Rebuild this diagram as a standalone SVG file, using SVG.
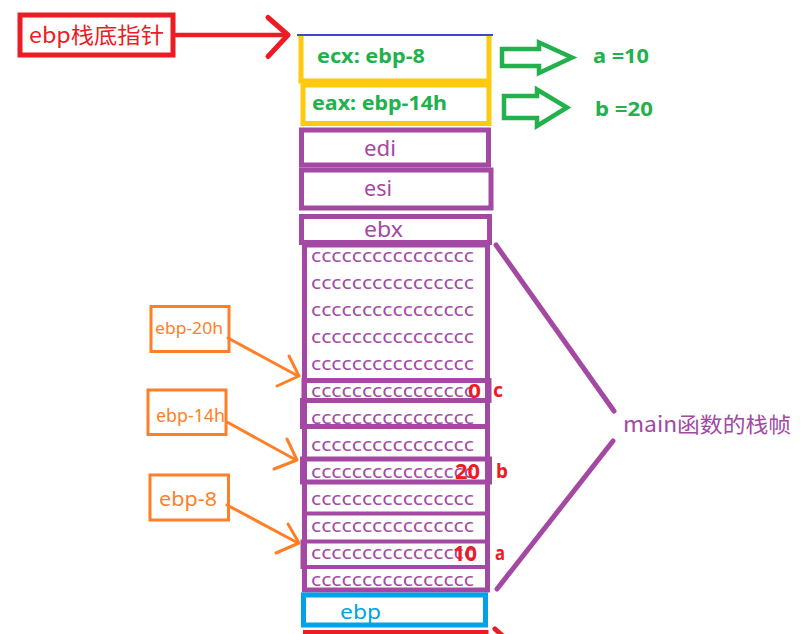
<svg xmlns="http://www.w3.org/2000/svg" width="805" height="634" viewBox="0 0 805 634">
  <style>
    .bg { fill: #ffffff; }
    .box { fill: none; stroke-width: 5; }
    .pur { stroke: #a349a4; }
    .yel { stroke: #ffc90e; }
    .blu { stroke: #00a2e8; }
    .red { stroke: #ed1c24; }
    .org { stroke: #ff7f27; }
    .grn { stroke: #22b14c; }
    .t { font-family: "Noto Sans", "Noto Sans CJK SC", sans-serif; }
    .cjk { font-family: "Noto Sans CJK SC", "Noto Sans", sans-serif; }
    .tp { fill: #a349a4; }
    .tg { fill: #22b14c; font-weight: bold; }
    .tr { fill: #ed1c24; }
    .trb { fill: #ed1c24; font-weight: bold; }
    .to { fill: #ff7f27; }
    .tb { fill: #00a2e8; }
    .cc { font-family: "Noto Sans", sans-serif; font-size: 18px; fill: #a349a4; }
    .ln { fill: none; stroke-linecap: round; stroke-linejoin: round; }
  </style>

  <rect class="bg" x="0" y="0" width="805" height="634"/>

  <!-- label: ebp pointer -->
  <g id="ebp-label">
    <rect class="box red" x="20" y="15" width="153" height="40"/>
    <text class="cjk tr" x="29" y="43" font-size="22" textLength="135" lengthAdjust="spacingAndGlyphs">ebp栈底指针</text>
  </g>

  <!-- top of frame -->
  <g id="frame-top">
    <line x1="297" y1="35" x2="493" y2="35" stroke="#3f48cc" stroke-width="2"/>
  </g>

  <!-- saved registers holding locals -->
  <g id="ecx-slot">
    <path class="box yel" d="M301,36 V81 H489 V36"/>
    <text class="t tg" x="317" y="63" font-size="20" textLength="108" lengthAdjust="spacingAndGlyphs">ecx: ebp-8</text>
  </g>
  <g id="eax-slot">
    <rect class="box yel" x="303" y="85" width="186" height="38.5"/>
    <text class="t tg" x="312" y="110" font-size="20" textLength="135" lengthAdjust="spacingAndGlyphs">eax: ebp-14h</text>
  </g>

  <g id="a-value">
    <text class="t tg" x="593" y="63" font-size="20" textLength="56" lengthAdjust="spacingAndGlyphs">a =10</text>
  </g>
  <g id="b-value">
    <text class="t tg" x="595" y="116" font-size="20" textLength="58" lengthAdjust="spacingAndGlyphs">b =20</text>
  </g>

  <!-- pushed registers -->
  <g id="edi">
    <rect class="box pur" x="301.5" y="130" width="187" height="35"/>
    <text class="t tp" x="364" y="156" font-size="21" textLength="32" lengthAdjust="spacingAndGlyphs">edi</text>
  </g>
  <g id="esi">
    <rect class="box pur" x="301.5" y="170" width="189.5" height="38"/>
    <text class="t tp" x="364" y="196" font-size="21" textLength="28" lengthAdjust="spacingAndGlyphs">esi</text>
  </g>
  <g id="ebx">
    <rect class="box pur" x="301.5" y="216.5" width="188" height="26"/>
    <text class="t tp" x="364" y="237" font-size="21" textLength="39" lengthAdjust="spacingAndGlyphs">ebx</text>
  </g>

  <!-- locals area filled with 0xCC -->
  <g id="locals">
    <rect class="box pur" x="304.5" y="245" width="183" height="345"/>
    <rect class="box pur" x="304" y="380.5" width="185" height="20"/>
    <rect class="box pur" x="302.5" y="400.5" width="185" height="26"/>
    <rect class="box pur" x="302.5" y="459" width="187" height="23"/>
    <line class="pur" x1="304" y1="513.5" x2="487" y2="513.5" stroke-width="4"/>
    <rect class="pur" x="302.5" y="541.5" width="185" height="25.5" fill="none" stroke-width="4"/>
    <text class="cc" x="311" y="262" textLength="163" lengthAdjust="spacingAndGlyphs">cccccccccccccccc</text>
    <text class="cc" x="311" y="289" textLength="163" lengthAdjust="spacingAndGlyphs">cccccccccccccccc</text>
    <text class="cc" x="311" y="316" textLength="163" lengthAdjust="spacingAndGlyphs">cccccccccccccccc</text>
    <text class="cc" x="311" y="343" textLength="163" lengthAdjust="spacingAndGlyphs">cccccccccccccccc</text>
    <text class="cc" x="311" y="370" textLength="163" lengthAdjust="spacingAndGlyphs">cccccccccccccccc</text>
    <text class="cc" x="311" y="397" textLength="163" lengthAdjust="spacingAndGlyphs">cccccccccccccccc</text>
    <text class="cc" x="311" y="424" textLength="163" lengthAdjust="spacingAndGlyphs">cccccccccccccccc</text>
    <text class="cc" x="311" y="451" textLength="163" lengthAdjust="spacingAndGlyphs">cccccccccccccccc</text>
    <text class="cc" x="311" y="478" textLength="163" lengthAdjust="spacingAndGlyphs">cccccccccccccccc</text>
    <text class="cc" x="311" y="505" textLength="163" lengthAdjust="spacingAndGlyphs">cccccccccccccccc</text>
    <text class="cc" x="311" y="532" textLength="163" lengthAdjust="spacingAndGlyphs">cccccccccccccccc</text>
    <text class="cc" x="311" y="559" textLength="163" lengthAdjust="spacingAndGlyphs">cccccccccccccccc</text>
    <text class="cc" x="311" y="586" textLength="163" lengthAdjust="spacingAndGlyphs">cccccccccccccccc</text>
  </g>

  <!-- variable values -->
  <g id="var-c">
    <text class="t trb" x="468" y="398" font-size="20" textLength="13" lengthAdjust="spacingAndGlyphs">0</text>
    <text class="t trb" x="493" y="397" font-size="20" textLength="10" lengthAdjust="spacingAndGlyphs">c</text>
  </g>
  <g id="var-b">
    <text class="t trb" x="455" y="479" font-size="22" textLength="25" lengthAdjust="spacingAndGlyphs">20</text>
    <text class="t trb" x="496" y="478" font-size="19" textLength="12" lengthAdjust="spacingAndGlyphs">b</text>
  </g>
  <g id="var-a">
    <text class="t trb" x="453" y="561" font-size="22" textLength="24" lengthAdjust="spacingAndGlyphs">10</text>
    <text class="t trb" x="495" y="560" font-size="20" textLength="10" lengthAdjust="spacingAndGlyphs">a</text>
  </g>

  <!-- saved ebp -->
  <g id="saved-ebp">
    <rect class="box blu" x="303.5" y="595" width="182" height="30"/>
    <text class="t tb" x="340" y="619" font-size="20" textLength="41" lengthAdjust="spacingAndGlyphs">ebp</text>
  </g>
  <g id="next-slot">
    <rect class="box red" x="305.5" y="632.5" width="180.5" height="20"/>
  </g>

  <!-- offset labels -->
  <g id="off-20h">
    <rect class="org" x="151" y="306.5" width="78" height="45" fill="none" stroke-width="3"/>
    <text class="t to" x="155" y="334" font-size="17" textLength="68" lengthAdjust="spacingAndGlyphs">ebp-20h</text>
  </g>
  <g id="off-14h">
    <rect class="org" x="148" y="390" width="78" height="44.5" fill="none" stroke-width="3"/>
    <text class="t to" x="156" y="422" font-size="17.5" textLength="69" lengthAdjust="spacingAndGlyphs">ebp-14h</text>
  </g>
  <g id="off-8">
    <rect class="org" x="150" y="475" width="78.5" height="45" fill="none" stroke-width="3"/>
    <text class="t to" x="159" y="506" font-size="20" textLength="58" lengthAdjust="spacingAndGlyphs">ebp-8</text>
  </g>

  <g id="frame-label">
    <text class="cjk tp" x="623" y="432" font-size="21" textLength="168" lengthAdjust="spacingAndGlyphs">main函数的栈帧</text>
  </g>

  <!-- connectors -->
  <g id="connectors">
    <line class="ln red" x1="176" y1="35" x2="287" y2="35" stroke-width="4.5"/>
    <polyline class="ln red" points="268,17.5 288,35 268,56.5" stroke-width="5"/>

    <polygon class="grn" points="502,49 539,49 539,42.5 572,57.5 539,73 539,66 502,66" fill="none" stroke-width="4.5"/>
    <polygon class="grn" points="504,96 537,96 537,89.5 567,107.5 537,126 537,118 504,118" fill="none" stroke-width="4.5"/>

    <line class="ln org" x1="228" y1="338" x2="298" y2="376" stroke-width="3"/>
    <polyline class="ln org" points="289,356 299,376 277,386" stroke-width="3"/>
    <line class="ln org" x1="227" y1="422" x2="296" y2="460" stroke-width="3"/>
    <polyline class="ln org" points="287,439 297,460 274,469" stroke-width="3"/>
    <line class="ln org" x1="227" y1="505" x2="298" y2="543" stroke-width="3"/>
    <polyline class="ln org" points="288,524 299,543 276,553" stroke-width="3"/>

    <line class="ln pur" x1="496" y1="245" x2="614" y2="411" stroke-width="5"/>
    <line class="ln pur" x1="613" y1="441" x2="497" y2="589" stroke-width="5"/>

    <line class="ln red" x1="495" y1="629" x2="505" y2="638" stroke-width="5"/>
  </g>
</svg>
